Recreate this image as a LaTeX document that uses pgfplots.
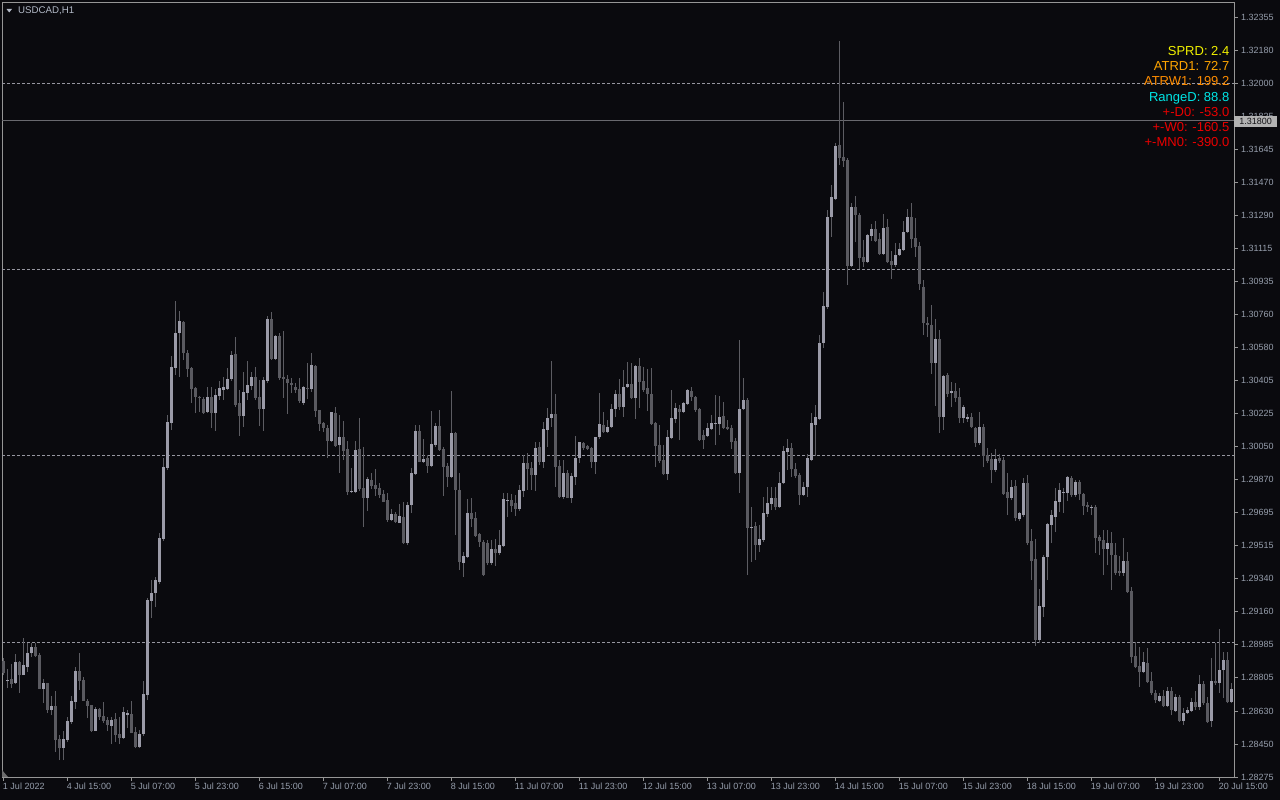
\documentclass[border=0pt]{standalone}
\usepackage{pgfplots}
\usepackage{pgfplotstable}
\pgfplotsset{compat=1.18}
\usepackage{fontspec}
\setmainfont{Liberation Sans}
\definecolor{bg}{RGB}{10,10,14}
\definecolor{framecol}{RGB}{150,150,150}
\definecolor{tickcol}{RGB}{150,158,172}
\definecolor{titlecol}{RGB}{178,185,198}
\definecolor{gridcol}{RGB}{150,150,160}
\definecolor{pricecol}{RGB}{105,105,110}
\definecolor{bull}{RGB}{155,155,168}
\definecolor{bear}{RGB}{90,90,96}
\definecolor{wick}{RGB}{92,92,98}
\definecolor{yel}{RGB}{240,240,0}
\definecolor{org1}{RGB}{255,165,0}
\definecolor{org2}{RGB}{255,140,0}
\definecolor{cyn}{RGB}{0,230,230}
\definecolor{rd}{RGB}{235,0,0}
\pgfplotstableread{
i o h l c
0 1.28897 1.28914 1.28822 1.28833
1 1.28790 1.28854 1.28752 1.28795
2 1.28801 1.28881 1.28752 1.28774
3 1.28779 1.28935 1.28774 1.28892
4 1.28892 1.28897 1.28726 1.28822
5 1.28822 1.29021 1.28822 1.28876
6 1.28865 1.28994 1.28838 1.28940
7 1.28940 1.28994 1.28919 1.28973
8 1.28973 1.28994 1.28919 1.28924
9 1.28930 1.28940 1.28747 1.28747
10 1.28747 1.28801 1.28672 1.28779
11 1.28779 1.28779 1.28618 1.28634
12 1.28634 1.28709 1.28607 1.28656
13 1.28656 1.28736 1.28409 1.28473
14 1.28479 1.28500 1.28366 1.28430
15 1.28430 1.28522 1.28366 1.28479
16 1.28473 1.28597 1.28462 1.28575
17 1.28570 1.28709 1.28559 1.28683
18 1.28677 1.28865 1.28640 1.28844
19 1.28844 1.28940 1.28742 1.28790
20 1.28795 1.28812 1.28683 1.28683
21 1.28683 1.28693 1.28591 1.28656
22 1.28661 1.28661 1.28516 1.28522
23 1.28522 1.28650 1.28522 1.28640
24 1.28640 1.28645 1.28581 1.28597
25 1.28602 1.28677 1.28564 1.28575
26 1.28581 1.28597 1.28522 1.28554
27 1.28548 1.28597 1.28452 1.28581
28 1.28586 1.28618 1.28462 1.28500
29 1.28505 1.28597 1.28452 1.28484
30 1.28484 1.28650 1.28479 1.28624
31 1.28607 1.28634 1.28538 1.28618
32 1.28613 1.28683 1.28511 1.28511
33 1.28516 1.28543 1.28430 1.28436
34 1.28436 1.28527 1.28430 1.28505
35 1.28505 1.28790 1.28495 1.28720
36 1.28715 1.29236 1.28688 1.29225
37 1.29220 1.29332 1.29128 1.29263
38 1.29263 1.29349 1.29187 1.29332
39 1.29322 1.29585 1.29311 1.29558
40 1.29553 1.29988 1.29542 1.29939
41 1.29934 1.30218 1.29923 1.30181
42 1.30175 1.30535 1.30138 1.30476
43 1.30471 1.30831 1.30433 1.30659
44 1.30659 1.30777 1.30423 1.30723
45 1.30718 1.30723 1.30514 1.30551
46 1.30551 1.30567 1.30423 1.30465
47 1.30471 1.30476 1.30283 1.30358
48 1.30363 1.30369 1.30229 1.30315
49 1.30315 1.30320 1.30235 1.30310
50 1.30304 1.30315 1.30224 1.30229
51 1.30235 1.30369 1.30229 1.30315
52 1.30315 1.30369 1.30149 1.30229
53 1.30229 1.30358 1.30133 1.30326
54 1.30320 1.30401 1.30299 1.30363
55 1.30353 1.30423 1.30299 1.30369
56 1.30358 1.30471 1.30353 1.30412
57 1.30412 1.30562 1.30401 1.30541
58 1.30546 1.30637 1.30261 1.30272
59 1.30283 1.30353 1.30106 1.30213
60 1.30213 1.30449 1.30154 1.30342
61 1.30337 1.30508 1.30299 1.30380
62 1.30374 1.30449 1.30353 1.30423
63 1.30423 1.30476 1.30299 1.30310
64 1.30315 1.30406 1.30159 1.30251
65 1.30251 1.30423 1.30133 1.30406
66 1.30401 1.30750 1.30390 1.30734
67 1.30734 1.30772 1.30514 1.30519
68 1.30519 1.30648 1.30514 1.30643
69 1.30643 1.30659 1.30406 1.30417
70 1.30423 1.30670 1.30310 1.30412
71 1.30412 1.30433 1.30224 1.30390
72 1.30390 1.30417 1.30337 1.30380
73 1.30369 1.30390 1.30337 1.30353
74 1.30358 1.30417 1.30283 1.30294
75 1.30283 1.30374 1.30272 1.30369
76 1.30363 1.30498 1.30304 1.30358
77 1.30358 1.30551 1.30342 1.30487
78 1.30482 1.30487 1.30208 1.30240
79 1.30245 1.30245 1.30133 1.30170
80 1.30175 1.30181 1.30127 1.30149
81 1.30149 1.30165 1.29988 1.30079
82 1.30079 1.30235 1.30073 1.30235
83 1.30229 1.30261 1.30047 1.30052
84 1.30057 1.30218 1.29907 1.30100
85 1.30100 1.30186 1.29977 1.30025
86 1.30036 1.30079 1.29789 1.29805
87 1.29805 1.29934 1.29800 1.29810
88 1.29805 1.30079 1.29800 1.30030
89 1.30036 1.30202 1.29810 1.29821
90 1.29826 1.30047 1.29617 1.29773
91 1.29773 1.29886 1.29703 1.29875
92 1.29869 1.29907 1.29821 1.29837
93 1.29843 1.29928 1.29783 1.29821
94 1.29826 1.29853 1.29773 1.29789
95 1.29794 1.29816 1.29751 1.29751
96 1.29762 1.29800 1.29644 1.29655
97 1.29655 1.29714 1.29649 1.29687
98 1.29687 1.29698 1.29638 1.29644
99 1.29638 1.29741 1.29638 1.29676
100 1.29671 1.29751 1.29526 1.29531
101 1.29531 1.29751 1.29520 1.29735
102 1.29735 1.29934 1.29692 1.29907
103 1.29902 1.30165 1.29896 1.30133
104 1.30133 1.30165 1.29966 1.29966
105 1.29966 1.30090 1.29961 1.29982
106 1.29988 1.30004 1.29907 1.29945
107 1.29945 1.30240 1.29939 1.30063
108 1.30057 1.30175 1.30047 1.30159
109 1.30159 1.30245 1.30025 1.30030
110 1.30036 1.30047 1.29783 1.29939
111 1.29945 1.29961 1.29832 1.29886
112 1.29886 1.30347 1.29880 1.30122
113 1.30122 1.30125 1.29574 1.29816
114 1.29816 1.29907 1.29386 1.29429
115 1.29424 1.29483 1.29349 1.29461
116 1.29456 1.29767 1.29451 1.29692
117 1.29692 1.29773 1.29617 1.29660
118 1.29665 1.29698 1.29563 1.29569
119 1.29579 1.29585 1.29510 1.29536
120 1.29536 1.29547 1.29354 1.29359
121 1.29531 1.29547 1.29413 1.29424
122 1.29424 1.29547 1.29413 1.29499
123 1.29499 1.29553 1.29408 1.29477
124 1.29477 1.29601 1.29467 1.29520
125 1.29515 1.29800 1.29510 1.29767
126 1.29757 1.29800 1.29671 1.29762
127 1.29762 1.29794 1.29698 1.29730
128 1.29746 1.29789 1.29676 1.29714
129 1.29714 1.29843 1.29703 1.29816
130 1.29810 1.30004 1.29778 1.29961
131 1.29961 1.30014 1.29816 1.29928
132 1.29934 1.29966 1.29816 1.29896
133 1.29896 1.30073 1.29810 1.30041
134 1.30047 1.30073 1.29950 1.29966
135 1.29966 1.30181 1.29934 1.30143
136 1.30138 1.30256 1.30047 1.30202
137 1.30202 1.30508 1.30154 1.30224
138 1.30224 1.30331 1.29832 1.29939
139 1.29945 1.29977 1.29773 1.29778
140 1.29778 1.29977 1.29767 1.29907
141 1.29907 1.29923 1.29773 1.29773
142 1.29773 1.29907 1.29746 1.29891
143 1.29886 1.30106 1.29843 1.29988
144 1.29988 1.30073 1.29961 1.30073
145 1.30068 1.30073 1.30030 1.30041
146 1.30052 1.30057 1.30030 1.30036
147 1.30041 1.30047 1.29934 1.29966
148 1.29966 1.30100 1.29902 1.30100
149 1.30100 1.30337 1.30090 1.30170
150 1.30165 1.30235 1.30122 1.30127
151 1.30127 1.30192 1.30122 1.30154
152 1.30154 1.30278 1.30149 1.30251
153 1.30251 1.30353 1.30208 1.30331
154 1.30331 1.30412 1.30245 1.30261
155 1.30261 1.30460 1.30208 1.30369
156 1.30369 1.30503 1.30363 1.30385
157 1.30385 1.30498 1.30304 1.30310
158 1.30310 1.30487 1.30197 1.30482
159 1.30482 1.30525 1.30256 1.30396
160 1.30401 1.30476 1.30342 1.30353
161 1.30363 1.30465 1.30240 1.30331
162 1.30331 1.30471 1.30165 1.30170
163 1.30175 1.30181 1.29939 1.30052
164 1.30057 1.30165 1.29961 1.29971
165 1.29977 1.30057 1.29896 1.29902
166 1.29902 1.30138 1.29869 1.30100
167 1.30095 1.30353 1.30090 1.30202
168 1.30197 1.30283 1.30175 1.30256
169 1.30251 1.30272 1.30084 1.30235
170 1.30235 1.30288 1.30229 1.30283
171 1.30278 1.30358 1.30272 1.30353
172 1.30347 1.30369 1.30294 1.30315
173 1.30315 1.30318 1.30235 1.30245
174 1.30251 1.30256 1.30079 1.30084
175 1.30111 1.30138 1.30036 1.30084
176 1.30106 1.30175 1.30100 1.30149
177 1.30143 1.30218 1.30138 1.30175
178 1.30170 1.30326 1.30057 1.30175
179 1.30170 1.30320 1.30111 1.30208
180 1.30213 1.30288 1.30143 1.30149
181 1.30154 1.30192 1.30138 1.30143
182 1.30149 1.30165 1.30036 1.30073
183 1.30079 1.30095 1.29902 1.29907
184 1.29907 1.30621 1.29800 1.30251
185 1.30251 1.30417 1.30245 1.30299
186 1.30299 1.30310 1.29359 1.29612
187 1.29612 1.29724 1.29429 1.29617
188 1.29622 1.29644 1.29440 1.29520
189 1.29520 1.29628 1.29483 1.29553
190 1.29547 1.29778 1.29536 1.29692
191 1.29687 1.29832 1.29671 1.29746
192 1.29741 1.29832 1.29708 1.29773
193 1.29773 1.29832 1.29708 1.29724
194 1.29724 1.29912 1.29719 1.29853
195 1.29853 1.30052 1.29848 1.30025
196 1.30020 1.30090 1.29923 1.30041
197 1.30041 1.30068 1.29886 1.29928
198 1.29928 1.29961 1.29880 1.29891
199 1.29896 1.29907 1.29735 1.29789
200 1.29789 1.29859 1.29783 1.29832
201 1.29832 1.30009 1.29778 1.29988
202 1.29977 1.30229 1.29971 1.30175
203 1.30165 1.30272 1.29998 1.30208
204 1.30197 1.30648 1.30192 1.30605
205 1.30605 1.30879 1.30578 1.30804
206 1.30798 1.31319 1.30788 1.31282
207 1.31282 1.31454 1.31174 1.31389
208 1.31378 1.31679 1.31373 1.31663
209 1.31668 1.32227 1.31561 1.31599
210 1.31604 1.31899 1.31550 1.31582
211 1.31588 1.31599 1.30917 1.31019
212 1.31019 1.31357 1.31013 1.31335
213 1.31335 1.31394 1.31147 1.31292
214 1.31292 1.31303 1.31002 1.31062
215 1.31067 1.31158 1.31013 1.31040
216 1.31040 1.31190 1.31035 1.31185
217 1.31180 1.31244 1.31153 1.31217
218 1.31217 1.31260 1.31147 1.31153
219 1.31164 1.31196 1.31078 1.31083
220 1.31083 1.31298 1.31078 1.31223
221 1.31228 1.31271 1.31035 1.31040
222 1.31045 1.31099 1.30949 1.31024
223 1.31024 1.31142 1.31013 1.31078
224 1.31078 1.31142 1.31072 1.31110
225 1.31105 1.31260 1.31099 1.31201
226 1.31201 1.31325 1.31196 1.31282
227 1.31282 1.31357 1.31115 1.31164
228 1.31169 1.31276 1.31067 1.31121
229 1.31126 1.31147 1.30890 1.30922
230 1.30906 1.30944 1.30648 1.30712
231 1.30712 1.30745 1.30637 1.30702
232 1.30702 1.30809 1.30439 1.30498
233 1.30498 1.30734 1.30267 1.30627
234 1.30627 1.30675 1.30122 1.30208
235 1.30208 1.30433 1.30138 1.30428
236 1.30433 1.30444 1.30315 1.30331
237 1.30337 1.30396 1.30261 1.30347
238 1.30347 1.30390 1.30288 1.30310
239 1.30315 1.30363 1.30175 1.30202
240 1.30202 1.30272 1.30175 1.30261
241 1.30197 1.30224 1.30181 1.30208
242 1.30208 1.30229 1.30149 1.30154
243 1.30149 1.30154 1.30047 1.30068
244 1.30068 1.30235 1.30057 1.30154
245 1.30154 1.30170 1.29939 1.29998
246 1.30004 1.30041 1.29961 1.29971
247 1.29982 1.30014 1.29853 1.29923
248 1.29923 1.30036 1.29912 1.29982
249 1.29988 1.30009 1.29961 1.29971
250 1.29977 1.29993 1.29789 1.29794
251 1.29805 1.29907 1.29681 1.29773
252 1.29773 1.29869 1.29762 1.29832
253 1.29837 1.29869 1.29649 1.29665
254 1.29660 1.29698 1.29649 1.29692
255 1.29681 1.29880 1.29671 1.29853
256 1.29853 1.29896 1.29520 1.29531
257 1.29542 1.29606 1.29332 1.29434
258 1.29445 1.29553 1.28978 1.29010
259 1.29010 1.29284 1.28994 1.29193
260 1.29187 1.29467 1.29134 1.29456
261 1.29456 1.29638 1.29332 1.29633
262 1.29628 1.29708 1.29531 1.29681
263 1.29671 1.29826 1.29590 1.29757
264 1.29751 1.29853 1.29698 1.29816
265 1.29800 1.29826 1.29692 1.29805
266 1.29800 1.29891 1.29757 1.29886
267 1.29880 1.29891 1.29778 1.29789
268 1.29789 1.29869 1.29778 1.29859
269 1.29859 1.29869 1.29762 1.29794
270 1.29794 1.29800 1.29681 1.29730
271 1.29735 1.29751 1.29698 1.29724
272 1.29719 1.29735 1.29681 1.29724
273 1.29724 1.29735 1.29477 1.29558
274 1.29563 1.29574 1.29467 1.29542
275 1.29547 1.29601 1.29359 1.29499
276 1.29499 1.29601 1.29413 1.29531
277 1.29531 1.29590 1.29279 1.29467
278 1.29467 1.29531 1.29359 1.29370
279 1.29381 1.29461 1.29354 1.29370
280 1.29370 1.29558 1.29354 1.29434
281 1.29434 1.29483 1.29263 1.29268
282 1.29273 1.29295 1.28887 1.28919
283 1.28924 1.28999 1.28860 1.28865
284 1.28871 1.28973 1.28758 1.28838
285 1.28838 1.28946 1.28833 1.28892
286 1.28887 1.28967 1.28779 1.28785
287 1.28790 1.28838 1.28715 1.28726
288 1.28726 1.28742 1.28672 1.28688
289 1.28683 1.28726 1.28677 1.28709
290 1.28709 1.28742 1.28650 1.28656
291 1.28656 1.28758 1.28650 1.28736
292 1.28736 1.28758 1.28607 1.28634
293 1.28629 1.28720 1.28624 1.28704
294 1.28704 1.28715 1.28570 1.28575
295 1.28575 1.28645 1.28554 1.28618
296 1.28618 1.28650 1.28613 1.28634
297 1.28629 1.28699 1.28624 1.28677
298 1.28677 1.28736 1.28634 1.28650
299 1.28650 1.28822 1.28634 1.28774
300 1.28774 1.28790 1.28661 1.28672
301 1.28672 1.28704 1.28564 1.28570
302 1.28575 1.28914 1.28543 1.28790
303 1.28790 1.28994 1.28769 1.28779
304 1.28779 1.29069 1.28726 1.28849
305 1.28849 1.28946 1.28699 1.28903
306 1.28903 1.28946 1.28672 1.28677
307 1.28677 1.28779 1.28672 1.28747
}\candles
\begin{document}
\begin{tikzpicture}
\path[use as bounding box] (0,0) rectangle (1280pt,800pt);
\fill[bg] (0,0) rectangle (1280pt,800pt);
\begin{axis}[
  at={(2pt,23pt)}, anchor=south west,
  scale only axis, width=1232pt, height=775pt,
  xmin=-0.325, xmax=307.7, ymin=1.28275, ymax=1.324355,
  clip=false,
  axis line style={framecol, line width=0.8pt},
  xtick pos=bottom, ytick pos=right,
  tick align=outside, major tick length=4pt,
  tick style={framecol, line width=0.8pt},
  minor tick num=0,
  /pgf/number format/assume math mode=true,
  xtick={0,16,32,48,64,80,96,112,128,144,160,176,192,208,224,240,256,272,288,304},
  xticklabels={1 Jul 2022,4 Jul 15:00,5 Jul 07:00,5 Jul 23:00,6 Jul 15:00,7 Jul 07:00,7 Jul 23:00,8 Jul 15:00,11 Jul 07:00,11 Jul 23:00,12 Jul 15:00,13 Jul 07:00,13 Jul 23:00,14 Jul 15:00,15 Jul 07:00,15 Jul 23:00,18 Jul 15:00,19 Jul 07:00,19 Jul 23:00,20 Jul 15:00},
  ytick={1.28275,1.284524,1.286298,1.288072,1.289846,1.29162,1.293394,1.295168,1.296942,1.298716,1.30049,1.302264,1.304038,1.305812,1.307586,1.30936,1.311134,1.312908,1.314682,1.316456,1.31823,1.320004,1.321778,1.323552},
  yticklabels={1.28275,1.28450,1.28630,1.28805,1.28985,1.29160,1.29340,1.29515,1.29695,1.29870,1.30050,1.30225,1.30405,1.30580,1.30760,1.30935,1.31115,1.31290,1.31470,1.31645,1.31825,1.32000,1.32180,1.32355},
  xticklabel style={font=\fontsize{9pt}{10pt}\selectfont, text=tickcol, anchor=north west, inner sep=1pt, xshift=-1.5pt, yshift=-1pt},
  yticklabel style={font=\fontsize{9pt}{10pt}\selectfont, text=tickcol, anchor=west, inner sep=1pt, xshift=2pt},
  unbounded coords=discard,
]
\draw[gridcol, line width=0.7pt, dash pattern=on 3pt off 2pt] (axis cs:-0.325,1.29) -- (axis cs:307.7,1.29);
\draw[gridcol, line width=0.7pt, dash pattern=on 3pt off 2pt] (axis cs:-0.325,1.30) -- (axis cs:307.7,1.30);
\draw[gridcol, line width=0.7pt, dash pattern=on 3pt off 2pt] (axis cs:-0.325,1.31) -- (axis cs:307.7,1.31);
\draw[gridcol, line width=0.7pt, dash pattern=on 3pt off 2pt] (axis cs:-0.325,1.32) -- (axis cs:307.7,1.32);
\draw[pricecol, line width=0.8pt] (axis cs:-0.325,1.318) -- (axis cs:307.7,1.318);
% wicks
\addplot[forget plot, draw=none, mark=none,
  error bars/.cd, y dir=plus, y explicit, error mark=none,
  error bar style={draw=wick, line width=1pt}]
  table[x=i, y=l, y error plus expr={\thisrow{h}-\thisrow{l}}] {\candles};
% bull bodies
\addplot[forget plot, draw=none, mark=none,
  error bars/.cd, y dir=plus, y explicit, error mark=none,
  error bar style={draw=bull, line width=2.8pt}]
  table[x=i, y expr={\thisrow{c}>=\thisrow{o} ? \thisrow{o} : nan},
        y error plus expr={max(\thisrow{c}-\thisrow{o},0.00005)}] {\candles};
% bear bodies
\addplot[forget plot, draw=none, mark=none,
  error bars/.cd, y dir=plus, y explicit, error mark=none,
  error bar style={draw=bear, line width=2.8pt}]
  table[x=i, y expr={\thisrow{c}<\thisrow{o} ? \thisrow{c} : nan},
        y error plus expr={\thisrow{o}-\thisrow{c}}] {\candles};
\node[anchor=west, yshift=-1pt, fill={rgb,255:red,178;green,178;blue,178}, text={rgb,255:red,20;green,20;blue,24}, inner sep=0pt, minimum width=43pt, minimum height=11pt, font=\fontsize{9pt}{10pt}\selectfont] at (axis cs:307.7,1.318) {1.31800};
\end{axis}
\fill[framecol!70!bg] (2pt,23pt) -- (2pt,30pt) -- (8pt,23pt) -- cycle;
\fill[titlecol] (6.5pt,791pt) -- (12pt,791pt) -- (9.25pt,787.5pt) -- cycle;
\node[anchor=base west, inner sep=0pt, text=titlecol, font=\fontsize{9.7pt}{11pt}\selectfont] at (18pt,786pt) {USDCAD,H1};
\begin{scope}[every node/.style={anchor=base east, inner sep=0pt, font=\fontsize{13pt}{15pt}\selectfont}]
\node[text=yel]  at (1229.5pt,744.5pt) {SPRD: 2.4};
\node[text=org1] at (1229.5pt,729.3pt) {ATRD1: 72.7};
\node[text=org2] at (1229.5pt,714.1pt) {ATRW1: 199.2};
\node[text=cyn]  at (1229.5pt,698.9pt) {RangeD: 88.8};
\node[text=rd]   at (1229.5pt,683.7pt) {+-D0: -53.0};
\node[text=rd]   at (1229.5pt,668.5pt) {+-W0: -160.5};
\node[text=rd]   at (1229.5pt,653.3pt) {+-MN0: -390.0};
\end{scope}
\end{tikzpicture}
\end{document}
